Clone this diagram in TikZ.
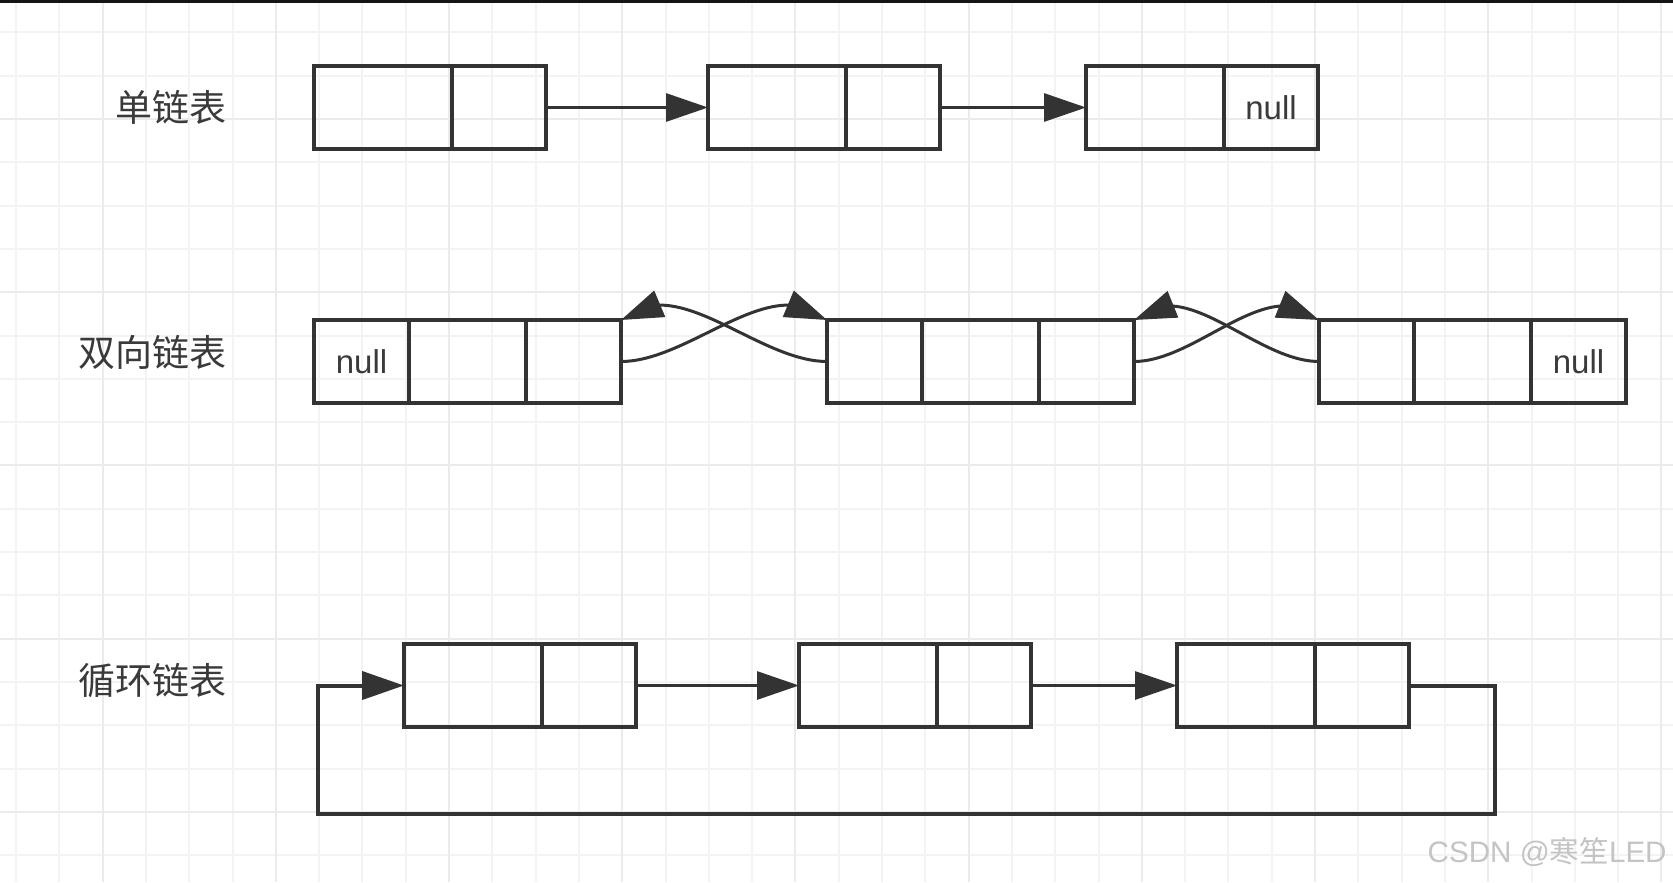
\documentclass[tikz,border=0pt]{standalone}
\usepackage{fontspec}
\setsansfont{Liberation Sans}
\newfontfamily\cjk{Noto Sans CJK SC}
\usetikzlibrary{positioning,arrows.meta,bending}
\definecolor{linegray}{HTML}{333333}
\definecolor{textgray}{HTML}{3A3A3A}
\definecolor{gridminor}{HTML}{F3F3F3}
\definecolor{gridmajor}{HTML}{EBEBEB}
\definecolor{markgray}{HTML}{C4C4C4}

\begin{document}
\begin{tikzpicture}[
  x=0.5pt, y=-0.5pt,
  cell/.style={draw=linegray, line width=2pt, outer sep=0pt, inner sep=0pt,
    minimum height=41.5pt, font=\sffamily\fontsize{16.5}{18}\selectfont, text=textgray},
  field/.style={cell, minimum width=69pt},
  nextfield/.style={cell, minimum width=47pt},
  prevfield/.style={cell, minimum width=47.5pt},
  dfield/.style={cell, minimum width=58.5pt},
  title/.style={font=\cjk\fontsize{18.5}{20}\selectfont, text=textgray,
    anchor=east, inner sep=0pt},
  link/.style={draw=linegray, line width=1.5pt, ->},
  >={Triangle[length=21pt, width=14pt]}]
\useasboundingbox[fill=white] (0,0) rectangle (1673,882);

% background grid
\foreach \i in {0,...,38} {
  \pgfmathsetmacro\gx{16+43.3*\i}
  \draw[gridminor, line width=1pt] (\gx,0) -- (\gx,882);
}
\foreach \j in {0,...,19} {
  \pgfmathsetmacro\gy{32.4+43.3*\j}
  \draw[gridminor, line width=1pt] (0,\gy) -- (1673,\gy);
}
\foreach \i in {0,...,9} {
  \pgfmathsetmacro\gx{102.6+173.2*\i}
  \draw[gridmajor, line width=1pt] (\gx,0) -- (\gx,882);
}
\foreach \j in {0,...,4} {
  \pgfmathsetmacro\gy{119+173.2*\j}
  \draw[gridmajor, line width=1pt] (0,\gy) -- (1673,\gy);
}
\fill[black!92] (0,0) rectangle (1673,3);

% titles
\node[title] (t1) at (227,107) {单链表};
\node[title] (t2) at (227,352) {双向链表};
\node[title] (t3) at (227,681) {循环链表};

% singly linked list
\node[field, anchor=north west] (s1a) at (314,66) {};
\node[nextfield, right=0pt of s1a] (s1b) {};
\node[field, anchor=north west] (s2a) at (708,66) {};
\node[nextfield, right=0pt of s2a] (s2b) {};
\node[field, anchor=north west] (s3a) at (1086,66) {};
\node[nextfield, right=0pt of s3a] (s3b) {null};
\draw[link] (s1b.east) -- (s2a.west);
\draw[link] (s2b.east) -- (s3a.west);

% doubly linked list
\node[prevfield, anchor=north west] (d1a) at (314,320) {null};
\node[dfield, right=0pt of d1a] (d1b) {};
\node[prevfield, right=0pt of d1b] (d1c) {};
\node[prevfield, anchor=north west] (d2a) at (827,320) {};
\node[dfield, right=0pt of d2a] (d2b) {};
\node[prevfield, right=0pt of d2b] (d2c) {};
\node[prevfield, anchor=north west] (d3a) at (1319,320) {};
\node[dfield, right=0pt of d3a] (d3b) {};
\node[prevfield, right=0pt of d3b] (d3c) {null};
\draw[link] (d1c.east) .. controls +(70,0) and +(-55,-50) .. (d2a.north west);
\draw[link] (d2a.west) .. controls +(-70,0) and +(55,-50) .. (d1c.north east);
\draw[link] (d2c.east) .. controls +(64,0) and +(-50,-48) .. (d3a.north west);
\draw[link] (d3a.west) .. controls +(-64,0) and +(50,-48) .. (d2c.north east);

% circular linked list
\node[field, anchor=north west] (c1a) at (404,644) {};
\node[nextfield, right=0pt of c1a] (c1b) {};
\node[field, anchor=north west] (c2a) at (799,644) {};
\node[nextfield, right=0pt of c2a] (c2b) {};
\node[field, anchor=north west] (c3a) at (1177,644) {};
\node[nextfield, right=0pt of c3a] (c3b) {};
\draw[link] (c1b.east) -- (c2a.west);
\draw[link] (c2b.east) -- (c3a.west);
\coordinate (loopR) at (1495,814);
\coordinate (loopL) at (318,814);
\draw[link, line width=2pt] (c3b.east) -| (loopR) -- (loopL) |- (c1a.west);

\node[anchor=east, inner sep=0pt, text=markgray,
  font=\sffamily\fontsize{14.8}{16}\selectfont] (mark) at (1667,852)
  {CSDN @{\cjk 寒笙}LED};
\end{tikzpicture}
\end{document}
